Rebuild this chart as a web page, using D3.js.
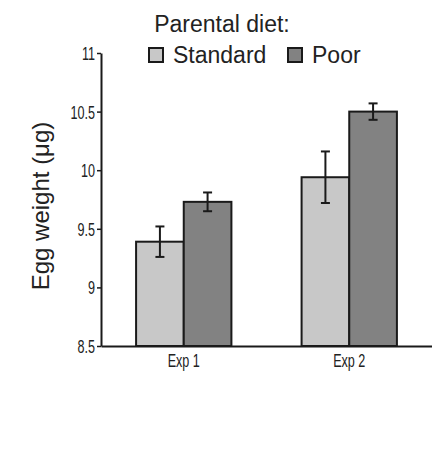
<!DOCTYPE html>
<html>
<head>
<meta charset="utf-8">
<script src="https://cdn.jsdelivr.net/npm/d3@7/dist/d3.min.js"></script>
<style>
  html, body { margin: 0; padding: 0; background: #fff; }
  svg { display: block; }
</style>
</head>
<body>
<svg id="chart" width="432" height="453"></svg>
<script>
// Egg weight by experiment and parental diet
const experiments = ["Exp 1", "Exp 2"];
const diets = ["Standard", "Poor"];
const standardMean = [9.39, 9.94];
const standardErr = [0.13, 0.22];
const poorMean = [9.73, 10.50];
const poorErr = [0.08, 0.07];
const yTicks = [8.5, 9, 9.5, 10, 10.5, 11];
const yTickLabels = ["8.5", "9", "9.5", "10", "10.5", "11"];
const dietColors = ["#c8c8c8", "#828282"];

const wideFont = '"Liberation Sans", Arial, Helvetica, sans-serif';
const ink = "#1a1a1a";
const squeeze = 0.7; // horizontal compression for the condensed tick labels

const rows = [];
experiments.forEach((exp, i) => {
  rows.push({ exp, diet: "Standard", mean: standardMean[i], err: standardErr[i] });
  rows.push({ exp, diet: "Poor", mean: poorMean[i], err: poorErr[i] });
});

const svg = d3.select("#chart");
const plotLeft = 101, plotRight = 432, plotTop = 53, plotBottom = 346;

const y = d3.scaleLinear().domain([8.5, 11]).range([plotBottom, plotTop]);
const x0 = d3.scaleBand().domain(experiments).range([plotLeft, plotRight])
  .paddingInner(0.424).paddingOuter(0.212);
const x1 = d3.scaleBand().domain(diets).range([0, x0.bandwidth()]).padding(0);
const color = d3.scaleOrdinal().domain(diets).range(dietColors);

// Bars
svg.append("g").selectAll("rect").data(rows).join("rect")
  .attr("x", d => x0(d.exp) + x1(d.diet))
  .attr("y", d => y(d.mean))
  .attr("width", x1.bandwidth())
  .attr("height", d => y(8.5) - y(d.mean))
  .attr("fill", d => color(d.diet))
  .attr("stroke", ink)
  .attr("stroke-width", 2);

// Error bars
const eb = svg.append("g").attr("stroke", ink).attr("stroke-width", 2);
rows.forEach(d => {
  const cx = x0(d.exp) + x1(d.diet) + x1.bandwidth() / 2;
  const y1 = y(d.mean + d.err), y2 = y(d.mean - d.err);
  eb.append("line").attr("x1", cx).attr("x2", cx).attr("y1", y1).attr("y2", y2);
  eb.append("line").attr("x1", cx - 4.5).attr("x2", cx + 4.5).attr("y1", y1).attr("y2", y1);
  eb.append("line").attr("x1", cx - 4.5).attr("x2", cx + 4.5).attr("y1", y2).attr("y2", y2);
});

// Y axis
const yAxis = d3.axisLeft(y).tickValues(yTicks)
  .tickFormat((d, i) => yTickLabels[i]).tickSize(4).tickSizeOuter(0).tickPadding(2);
const gy = svg.append("g").attr("transform", `translate(${plotLeft},0)`).call(yAxis);
gy.select(".domain").attr("stroke", ink).attr("stroke-width", 2);
gy.selectAll(".tick line").attr("stroke", ink).attr("stroke-width", 1.5);
gy.selectAll(".tick text")
  .style("font-family", wideFont).style("font-size", "18px")
  .attr("fill", "#222").attr("dy", "0.36em")
  .attr("x", -6 / squeeze)
  .attr("transform", `scale(${squeeze},1)`);

// X axis baseline and labels
const xAxis = d3.axisBottom(x0).tickSize(0).tickPadding(8);
const gx = svg.append("g").attr("transform", `translate(0,${plotBottom})`).call(xAxis);
gx.select(".domain").attr("stroke", ink).attr("stroke-width", 2);
gx.selectAll(".tick text")
  .style("font-family", wideFont).style("font-size", "18px")
  .attr("fill", "#222")
  .attr("transform", `scale(${squeeze},1)`);

// Y axis title
svg.append("text")
  .attr("transform", "translate(49,206) rotate(-90)")
  .attr("text-anchor", "middle").style("font-family", wideFont).style("font-size", "24px")
  .attr("fill", "#222")
  .text("Egg weight (μg)");

// Legend
svg.append("text").attr("x", 222).attr("y", 32)
  .attr("text-anchor", "middle").style("font-family", wideFont).style("font-size", "23px")
  .attr("fill", "#222")
  .text("Parental diet:");
const legendX = [149, 288];
const lg = svg.append("g").selectAll("g").data(diets).join("g")
  .attr("transform", (d, i) => `translate(${legendX[i]},48)`);
lg.append("rect").attr("width", 14).attr("height", 14)
  .attr("fill", d => color(d)).attr("stroke", ink).attr("stroke-width", 2);
lg.append("text").attr("x", 24).attr("y", 15)
  .style("font-family", wideFont).style("font-size", "23px")
  .attr("fill", "#222").text(d => d);
</script>
</body>
</html>
